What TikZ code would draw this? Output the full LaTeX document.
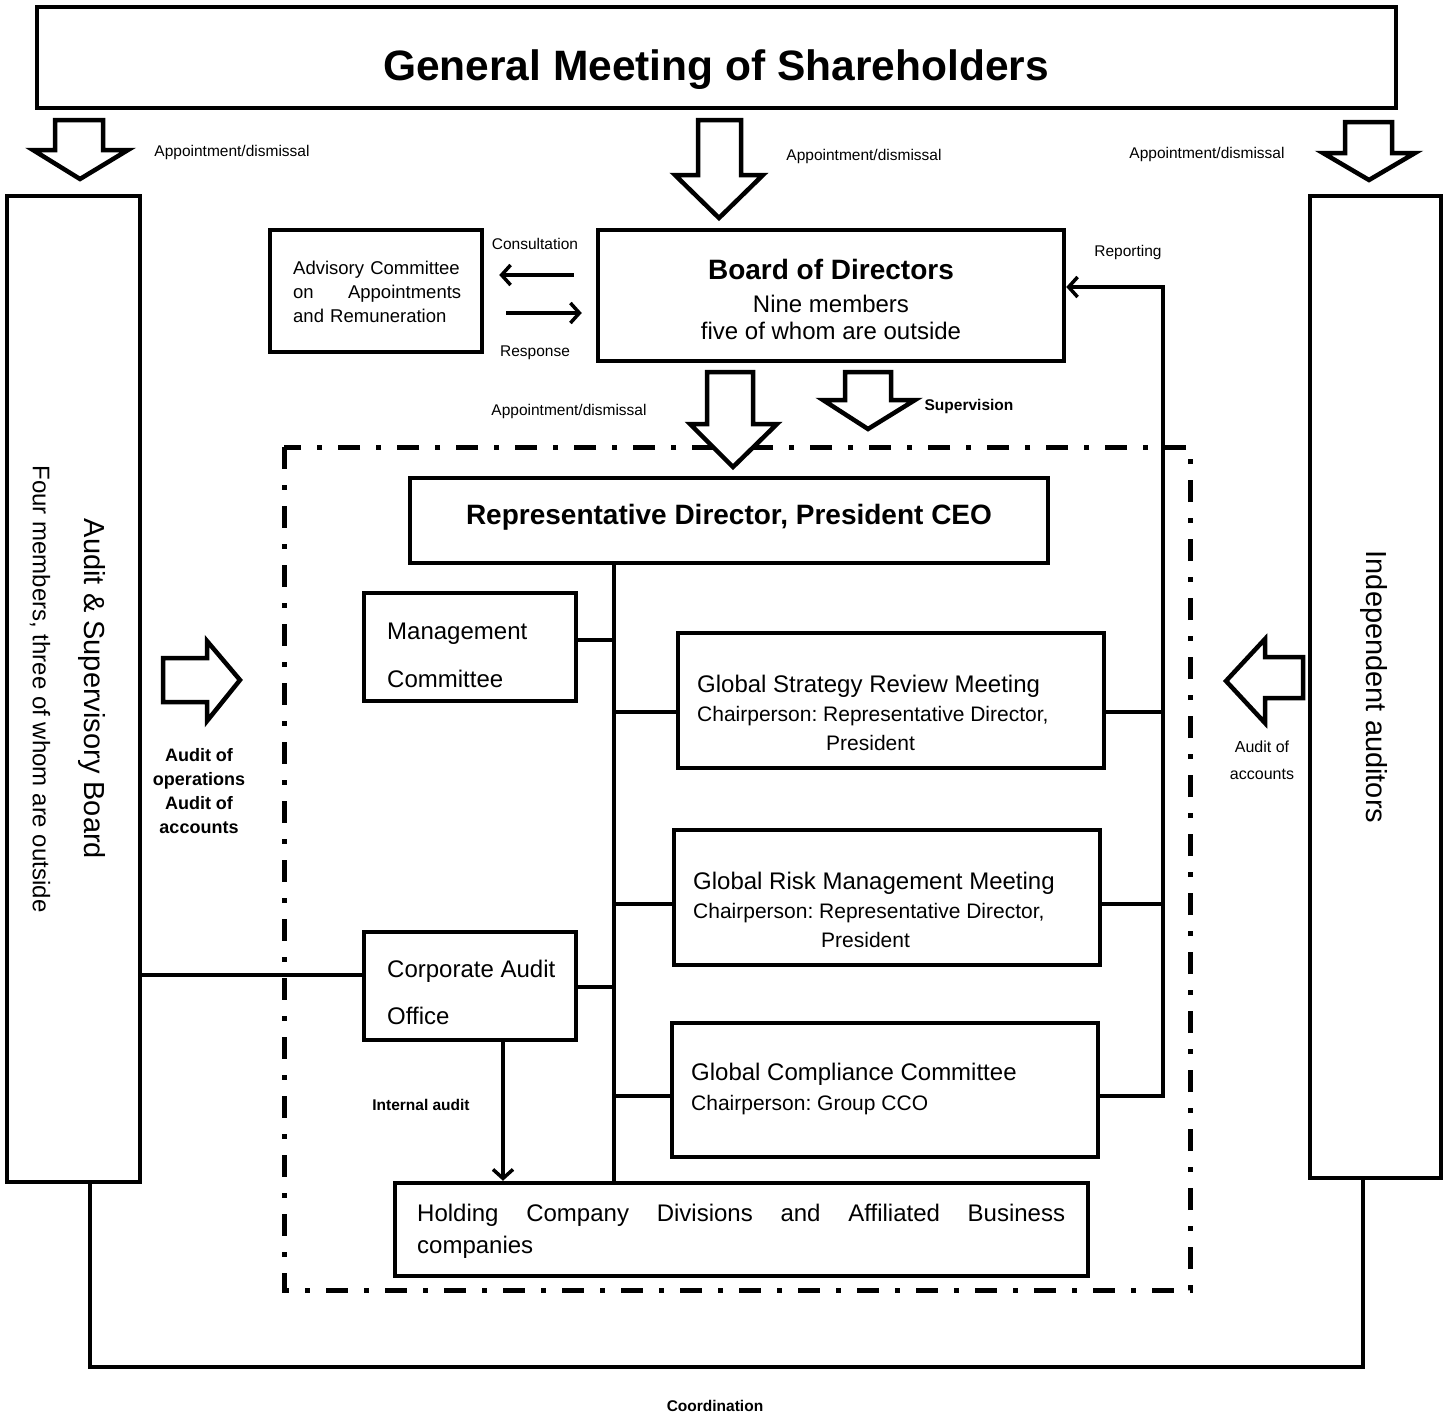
\documentclass[tikz,border=0pt]{standalone}
\usepackage{fontspec}
\setmainfont{Liberation Sans}
\usetikzlibrary{arrows.meta}
\newcommand\blkdown[8]{\draw[blk] (#1,#3) -- (#2,#3) -- (#2,#4) -- (#6,#4) -- (#7,#8) -- (#5,#4) -- (#1,#4) -- cycle;}
\begin{document}
\frenchspacing
\begin{tikzpicture}[x=1pt,y=-1pt,
  box/.style={draw, line width=4.5pt, inner sep=0pt},
  blk/.style={draw, line width=4.5pt, fill=white, line join=miter},
  conn/.style={line width=4.5pt},
  arr/.style={line width=3.5pt, -{Straight Barb[length=9pt,width=20pt,line width=3.5pt]}},
  ddot/.style={line width=5pt, dash pattern=on 22pt off 16pt on 5pt off 16pt},
  txt/.style={inner sep=0pt},
  lab/.style={inner sep=0pt, font=\fontsize{15.5}{18}\selectfont},
  blab/.style={inner sep=0pt, font=\bfseries\fontsize{15.5}{18}\selectfont},
]
\useasboundingbox (0,0) rectangle (1451,1414);

% executive dash-dot frame
\draw[ddot] (284,447) rectangle (1190,1290);

% boxes
\node[box, minimum width=1359pt, minimum height=101pt] (gms) at (716.5,57.5) {};
\node[box, minimum width=133pt, minimum height=986pt] (asb) at (73.5,689) {};
\node[box, minimum width=131pt, minimum height=982pt] (ind) at (1375.5,687) {};
\node[box, minimum width=212pt, minimum height=122pt] (adv) at (376,291) {};
\node[box, minimum width=466pt, minimum height=131pt] (bod) at (831,295.5) {};
\node[box, minimum width=638pt, minimum height=85pt] (ceo) at (729,520.5) {};
\node[box, minimum width=212pt, minimum height=108pt] (mgmt) at (470,647) {};
\node[box, minimum width=426pt, minimum height=135pt] (gs) at (891,700.5) {};
\node[box, minimum width=426pt, minimum height=135pt] (gr) at (887,897.5) {};
\node[box, minimum width=212pt, minimum height=108pt] (cao) at (470,986) {};
\node[box, minimum width=426pt, minimum height=134pt] (gc) at (885,1090) {};
\node[box, minimum width=693pt, minimum height=93pt] (hold) at (741.5,1229.5) {};

% texts in boxes
\node[txt, font=\bfseries\fontsize{42.5}{50}\selectfont] (gmsT) at (716,70) {General Meeting of Shareholders};
\node[txt, rotate=-90, font=\fontsize{29}{34}\selectfont] (asbT) at (92,689) {Audit \& Supervisory Board};
\node[txt, rotate=-90, font=\fontsize{24}{28}\selectfont] (asbT2) at (40,689) {Four members, three of whom are outside};
\node[txt, rotate=-90, font=\fontsize{29}{34}\selectfont] (indT) at (1374,687) {Independent auditors};
\node[txt, anchor=west, text width=168pt, align=left, font=\fontsize{18.5}{24}\selectfont] (advT) at (293,292) {\mbox{Advisory Committee}\\ on\hfill Appointments\\ and Remuneration};
\node[txt, align=center, font=\fontsize{24}{27}\selectfont] (bodT) at (831,299) {{\bfseries\fontsize{28}{30}\selectfont Board of Directors}\\[6pt] Nine members\\ five of whom are outside};
\node[txt, font=\bfseries\fontsize{28}{32}\selectfont] (ceoT) at (729,517) {Representative Director, President CEO};
\node[txt, anchor=west, align=left, font=\fontsize{24}{48}\selectfont] (mgmtT) at (387,655) {Management\\ Committee};
\node[txt, anchor=west, align=left, font=\fontsize{24}{47}\selectfont] (caoT) at (387,992) {Corporate Audit\\ Office};
\node[txt, anchor=west, align=left, font=\fontsize{21}{29}\selectfont] (gsT) at (697,713) {{\fontsize{24}{29}\selectfont Global Strategy Review Meeting}\\ Chairperson: Representative Director,\\ \hspace*{129pt}President};
\node[txt, anchor=west, align=left, font=\fontsize{21}{29}\selectfont] (grT) at (693,910) {{\fontsize{24}{29}\selectfont Global Risk Management Meeting}\\ Chairperson: Representative Director,\\ \hspace*{128pt}President};
\node[txt, anchor=west, align=left, font=\fontsize{21}{30}\selectfont] (gcT) at (691,1089) {{\fontsize{24}{30}\selectfont Global Compliance Committee}\\ Chairperson: Group CCO};
\node[txt, anchor=west, text width=648pt, align=left, font=\fontsize{24}{32}\selectfont] (holdT) at (417,1231) {Holding\hfill Company\hfill Divisions\hfill and\hfill Affiliated\hfill Business\\ companies};

% labels
\node[lab] (l1) at (232,152) {Appointment/dismissal};
\node[lab] (l2) at (864,156) {Appointment/dismissal};
\node[lab] (l3) at (1207,154) {Appointment/dismissal};
\node[lab] (l4) at (569,411) {Appointment/dismissal};
\node[lab] (cons) at (535,244) {Consultation};
\node[lab] (resp) at (535,353) {Response};
\node[lab] (repT) at (1128,252) {Reporting};
\node[blab] (sup) at (969,406) {Supervision};
\node[blab] (iaT) at (421,1105) {Internal audit};
\node[blab] (coordT) at (715,1406) {Coordination};
\node[txt, align=center, font=\bfseries\fontsize{18}{24}\selectfont] (aopT) at (199,791) {Audit of\\ operations\\ Audit of\\ accounts};
\node[txt, align=center, font=\fontsize{16}{27}\selectfont] (aacT) at (1262,760) {Audit of\\ accounts};

% block arrows
\blkdown{55}{103}{120}{150}{33}{128}{80}{179}
\blkdown{698}{741}{120}{175}{675}{763}{719}{218}
\blkdown{1345}{1392}{122}{153}{1323}{1415}{1369}{180}
\blkdown{707}{753}{372}{424}{690}{777}{733}{467}
\blkdown{845}{891}{372}{400}{823}{915}{868}{429}
\draw[blk] (163,658) -- (207,658) -- (207,641) -- (240,680) -- (207,721) -- (207,702) -- (163,702) -- cycle;
\draw[blk] (1303,657) -- (1265,657) -- (1265,639) -- (1226,681) -- (1265,723) -- (1265,698) -- (1303,698) -- cycle;

% helper coordinates
\coordinate (sp) at (614,0);
\coordinate (rx) at (1163,0);
\coordinate (iax) at (503,0);
\coordinate (y1) at (0,275);
\coordinate (y2) at (0,313);
\coordinate (yr) at (0,287);
\coordinate (ym) at (0,640);
\coordinate (ygs) at (0,712);
\coordinate (ygr) at (0,904);
\coordinate (yca) at (0,987);
\coordinate (ygc) at (0,1096);
\coordinate (yal) at (0,975);
\coordinate (yco) at (0,1367);
\coordinate (cl) at (90,0);
\coordinate (cr) at (1363,0);

% consultation / response
\draw[arr, shorten <=22pt, shorten >=15pt] (bod.west |- y1) -- (adv.east |- y1);
\draw[arr, shorten <=22pt, shorten >=14pt] (adv.east |- y2) -- (bod.west |- y2);

% spine and branches
\draw[conn] (sp |- ceo.south) -- (sp |- hold.north);
\draw[conn] (mgmt.east |- ym) -- (sp |- ym);
\draw[conn] (cao.east |- yca) -- (sp |- yca);
\draw[conn] (sp |- ygs) -- (gs.west |- ygs);
\draw[conn] (sp |- ygr) -- (gr.west |- ygr);
\draw[conn] (sp |- ygc) -- (gc.west |- ygc);

% reporting
\draw[conn] (gs.east |- ygs) -- (rx |- ygs);
\draw[conn] (gr.east |- ygr) -- (rx |- ygr);
\draw[arr, line width=4.5pt] (gc.east |- ygc) -- (rx |- ygc) -- (rx |- yr) -- (bod.east |- yr);

% audit board to corporate audit office
\draw[conn] (asb.east |- yal) -- (cao.west |- yal);

% internal audit
\draw[arr] (iax |- cao.south) -- (iax |- hold.north);

% coordination
\draw[line width=4pt] (cl |- asb.south) -- (cl |- yco) -- (cr |- yco) -- (cr |- ind.south);
\end{tikzpicture}
\end{document}
